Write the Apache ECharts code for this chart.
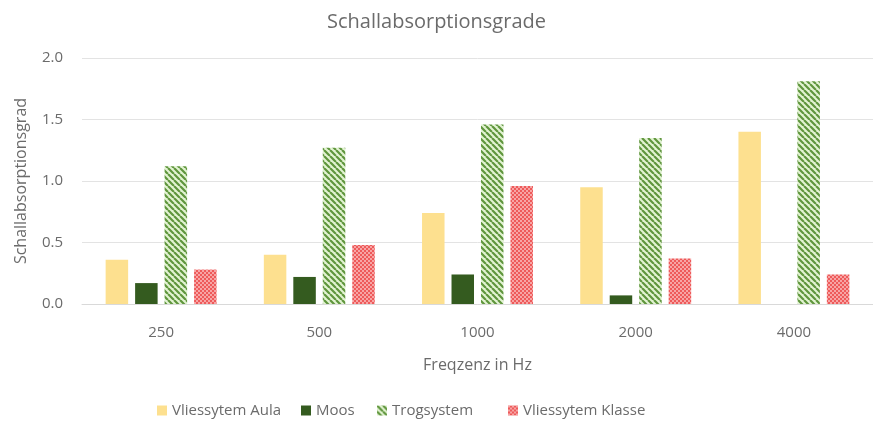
<!DOCTYPE html>
<html><head><meta charset="utf-8">
<script src="https://cdn.jsdelivr.net/npm/echarts@6/dist/echarts.min.js"></script>
<style>html,body{margin:0;padding:0;background:#fff}#c{width:873px;height:430px}</style>
</head><body><div id="c"></div>
<script>
const categories = ['250', '500', '1000', '2000', '4000'];
const seriesNames = ['Vliessytem Aula', 'Moos', 'Trogsystem', 'Vliessytem Klasse'];
const aula = [0.36, 0.40, 0.74, 0.95, 1.40];
const moos = [0.17, 0.22, 0.24, 0.07, null];
const trog = [1.12, 1.27, 1.46, 1.35, 1.81];
const klasse = [0.28, 0.48, 0.96, 0.37, 0.24];
const yTicks = [0, 0.5, 1.0, 1.5, 2.0];

function stripePattern() {
  const s = 6;
  const c = document.createElement('canvas');
  c.width = s; c.height = s;
  const g = c.getContext('2d');
  g.fillStyle = '#e2f3d2';
  g.fillRect(0, 0, s, s);
  g.strokeStyle = '#5f963d';
  g.lineWidth = 2.2;
  g.beginPath();
  for (let k = -s; k <= 2 * s; k += s) {
    g.moveTo(k, 0); g.lineTo(k + s, s);
  }
  g.stroke();
  return c;
}
function dotPattern() {
  const s = 4;
  const c = document.createElement('canvas');
  c.width = s; c.height = s;
  const g = c.getContext('2d');
  g.fillStyle = '#ee5a5a';
  g.fillRect(0, 0, s, s);
  g.fillStyle = '#f7a5a5';
  g.fillRect(0, 0, 2, 2);
  g.fillRect(2, 2, 2, 2);
  return c;
}

const font = 'Open Sans';
const txt = '#6b6b6b';
const legendLefts = [157, 301, 377, 508];
const legendBase = {
  top: 403, padding: 0, icon: 'rect', itemWidth: 10, itemHeight: 10,
  textStyle: {fontFamily: font, fontSize: 15, color: txt}
};
const chart = echarts.init(document.getElementById('c'), null, {renderer: 'canvas'});
chart.setOption({
  animation: false,
  backgroundColor: '#ffffff',
  textStyle: {fontFamily: font},
  title: {
    text: 'Schallabsorptionsgrade', left: 'center', top: 7,
    textStyle: {fontFamily: font, fontSize: 20, fontWeight: 'normal', color: txt}
  },
  legend: seriesNames.map((n, i) => Object.assign({}, legendBase, {data: [n], left: legendLefts[i]})),
  grid: {left: 82, top: 58, width: 796, height: 246, containLabel: false},
  xAxis: {
    type: 'category', data: categories,
    name: 'Freqzenz in Hz', nameLocation: 'middle', nameGap: 53,
    nameTextStyle: {fontFamily: font, fontSize: 16, color: txt},
    axisLine: {show: true, lineStyle: {color: '#d9d9d9'}},
    axisTick: {show: false},
    axisLabel: {fontFamily: font, fontSize: 15, color: txt, margin: 21}
  },
  yAxis: {
    type: 'value', min: yTicks[0], max: yTicks[yTicks.length - 1], interval: 0.5,
    name: 'Schallabsorptionsgrad', nameLocation: 'middle', nameGap: 53,
    nameTextStyle: {fontFamily: font, fontSize: 16, color: txt},
    axisLine: {show: false}, axisTick: {show: false},
    splitLine: {lineStyle: {color: '#e3e3e3'}},
    axisLabel: {fontFamily: font, fontSize: 15, color: txt, margin: 19,
      formatter: v => v.toFixed(1)}
  },
  series: [
    {name: seriesNames[0], type: 'bar', data: aula, barWidth: 22.5, barGap: '31%',
     itemStyle: {color: '#fde08f'}},
    {name: seriesNames[1], type: 'bar', data: moos, barWidth: 22.5, barGap: '31%',
     itemStyle: {color: '#345b1f'}},
    {name: seriesNames[2], type: 'bar', data: trog, barWidth: 22.5, barGap: '31%',
     itemStyle: {color: {image: stripePattern(), repeat: 'repeat'}}},
    {name: seriesNames[3], type: 'bar', data: klasse, barWidth: 22.5, barGap: '31%',
     itemStyle: {color: {image: dotPattern(), repeat: 'repeat'}}}
  ]
});
</script></body></html>
